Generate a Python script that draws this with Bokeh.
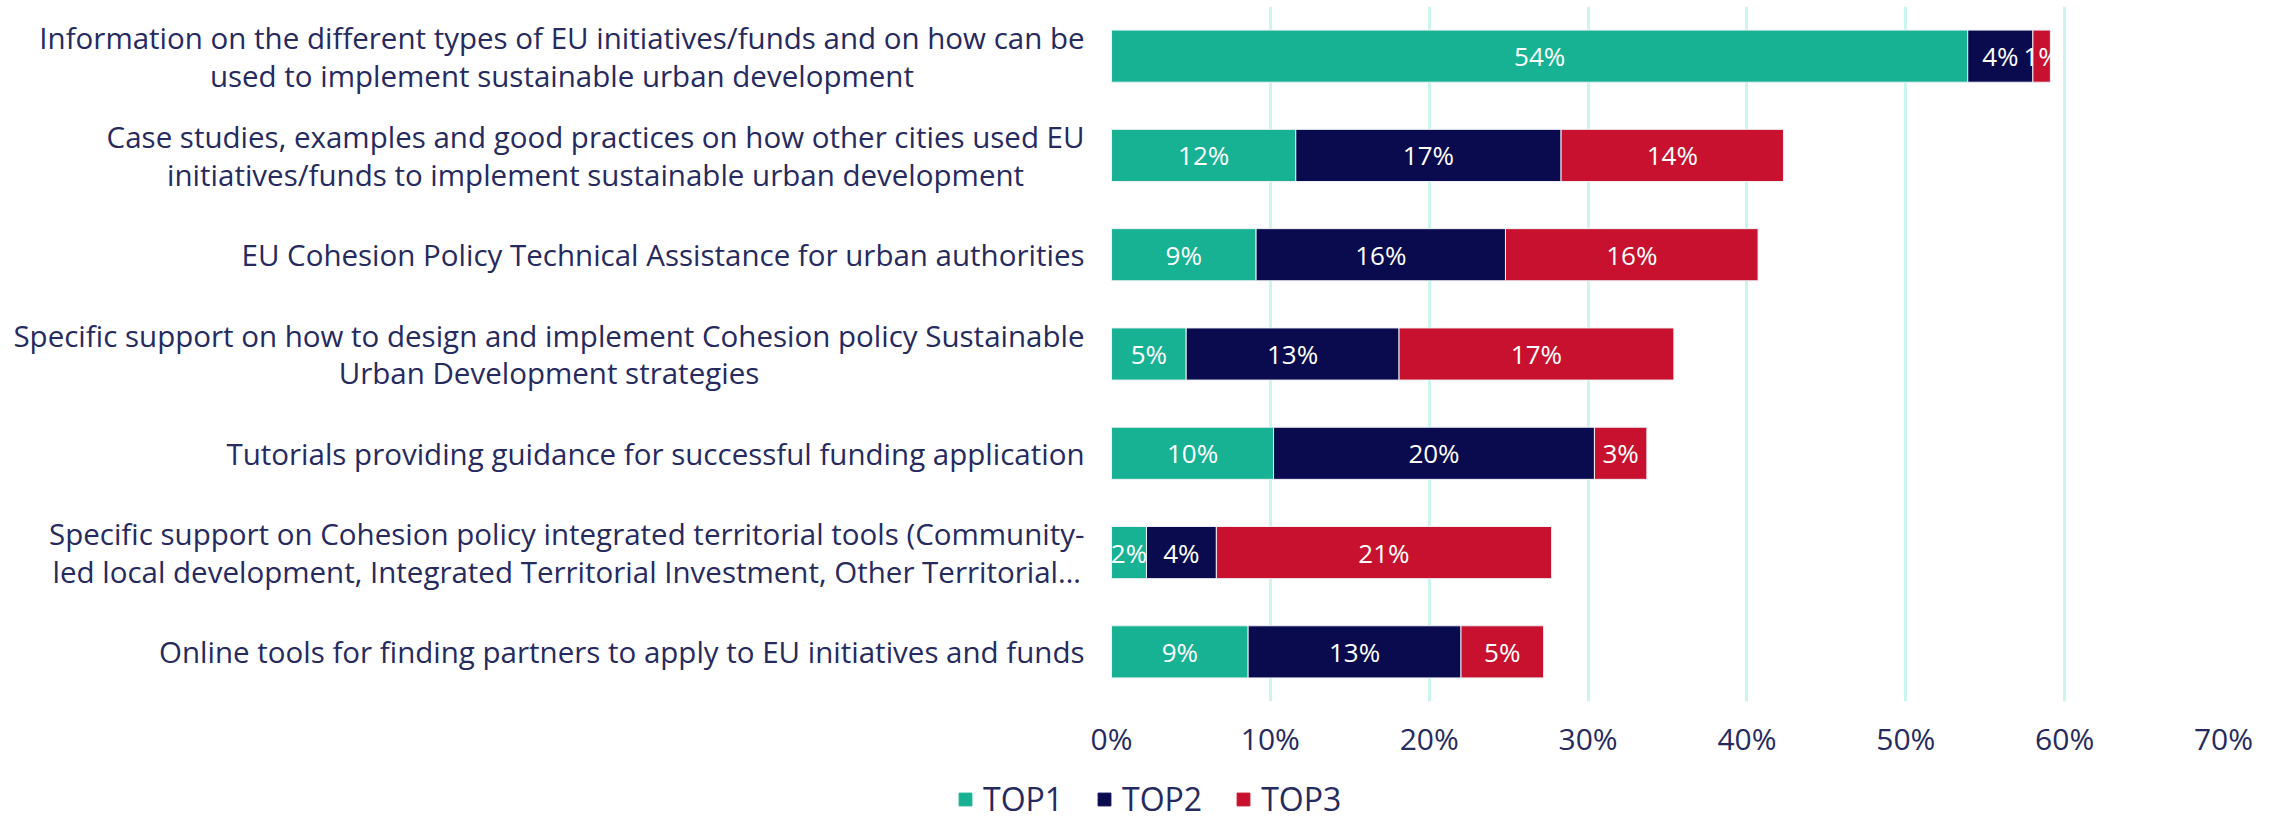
from bokeh.plotting import figure
from bokeh.layouts import column
from bokeh.models import (Range1d, FactorRange, FixedTicker, PrintfTickFormatter,
                          Legend, LegendItem, ColumnDataSource)
from bokeh.core.properties import value
from bokeh.embed import file_html
from bokeh.resources import INLINE

categories = [
    "Information on the different types of EU initiatives/funds and on how can be\nused to implement sustainable urban development",
    "Case studies, examples and good practices on how other cities used EU\ninitiatives/funds to implement sustainable urban development",
    "EU Cohesion Policy Technical Assistance for urban authorities",
    "Specific support on how to design and implement Cohesion policy Sustainable\nUrban Development strategies",
    "Tutorials providing guidance for successful funding application",
    "Specific support on Cohesion policy integrated territorial tools (Community-\nled local development, Integrated Territorial Investment, Other Territorial\u2026",
    "Online tools for finding partners to apply to EU initiatives and funds",
]
top1 = [53.9, 11.6, 9.1, 4.7, 10.2, 2.2, 8.6]
top2 = [4.1, 16.7, 15.7, 13.4, 20.2, 4.4, 13.4]
top3 = [1.1, 14.0, 15.9, 17.3, 3.3, 21.1, 5.2]
series = ["TOP1", "TOP2", "TOP3"]
colors = ["#17b294", "#090b4e", "#c8112e"]
x_ticks = [0, 10, 20, 30, 40, 50, 60, 70]
grid_ticks = [10, 20, 30, 40, 50, 60]

FONT = "Open Sans"
TEXT_COLOR = "#262a5e"

src = ColumnDataSource(dict(cat=categories, TOP1=top1, TOP2=top2, TOP3=top3))

p = figure(width=2285, height=770, output_backend="svg", toolbar_location=None,
           y_range=FactorRange(factors=list(reversed(categories)), range_padding=0),
           x_range=Range1d(-69.94, 70), y_axis_location=None,
           min_border_left=0, min_border_top=6, min_border_right=62,
           min_border_bottom=69, outline_line_color=None)

rs = p.hbar_stack(series, y="cat", height=0.525, color=colors, source=src,
                  line_color="#eef0f4", line_width=1)

# value labels centred in each segment
lx, ly, lt = [], [], []
for i, c in enumerate(categories):
    start = 0.0
    for vals in (top1, top2, top3):
        v = vals[i]
        lx.append(start + v / 2)
        ly.append(c)
        lt.append(f"{v:.0f}%")
        start += v
p.text(x=lx, y=ly, text=lt, text_align="center", text_baseline="middle",
       text_color="white", text_font=value(FONT), text_font_size="26px")

# category labels, lines centred, block right-aligned
p.text(x=-1.7, y="cat", text="cat", source=src, anchor="center_right",
       text_align="center", text_baseline="middle", text_color=TEXT_COLOR,
       text_font=value(FONT), text_font_size="29.5px", text_line_height=0.92)

p.xaxis.ticker = FixedTicker(ticks=x_ticks)
p.xaxis.formatter = PrintfTickFormatter(format="%d%%")
p.xaxis.axis_line_color = None
p.xaxis.major_tick_line_color = None
p.xaxis.minor_tick_line_color = None
p.xaxis.major_tick_out = 0
p.xaxis.major_label_standoff = 16
p.xaxis.major_label_text_font = FONT
p.xaxis.major_label_text_font_size = "30px"
p.xaxis.major_label_text_color = TEXT_COLOR

p.xgrid.ticker = FixedTicker(ticks=grid_ticks)
p.xgrid.grid_line_color = "#cbf5ee"
p.xgrid.grid_line_width = 3
p.ygrid.visible = False

# legend strip underneath (swatch renderers sit outside its visible range)
pl = figure(width=2285, height=51, output_backend="svg", toolbar_location=None,
            x_axis_location=None, y_axis_location=None, outline_line_color=None,
            min_border_left=0, min_border_right=0, min_border_top=0,
            min_border_bottom=0, x_range=Range1d(0, 1), y_range=Range1d(0, 1))
pl.xgrid.visible = False
pl.ygrid.visible = False
swatches = [pl.hbar(y=[-5], left=[0], right=[0], height=0.5, color=c) for c in colors]
legend = Legend(items=[LegendItem(label=s, renderers=[r]) for s, r in zip(series, swatches)],
                orientation="horizontal", location=(957, 1), margin=0, padding=0,
                glyph_width=16, glyph_height=16, label_standoff=10, spacing=33,
                label_text_font=FONT, label_text_font_size="32px",
                label_text_color=TEXT_COLOR, background_fill_alpha=0,
                border_line_color=None)
pl.add_layout(legend, "center")

layout = column(p, pl, spacing=0)
open("out.html", "w").write(file_html(layout, INLINE))
